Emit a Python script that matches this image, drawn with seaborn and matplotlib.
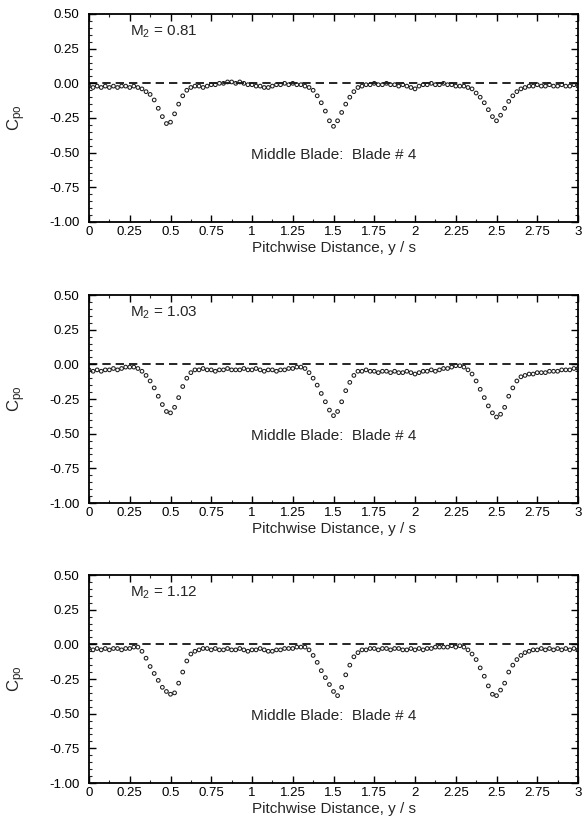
import numpy as np
import pandas as pd
import matplotlib
matplotlib.use("Agg")
import matplotlib.pyplot as plt
import seaborn as sns
from matplotlib.ticker import MultipleLocator, FixedLocator

# ---------------- data ----------------
pitch = np.round(np.arange(121) * 0.025, 3)  # y/s sample positions 0 .. 3

mach_labels = ["0.81", "1.03", "1.12"]

cpo_081 = [
    -0.02, -0.03, -0.02, -0.03, -0.02, -0.03, -0.02, -0.03, -0.02, -0.02,
    -0.03, -0.02, -0.03, -0.04, -0.06, -0.08, -0.12, -0.18, -0.24, -0.29,
    -0.28, -0.22, -0.15, -0.09, -0.05, -0.03, -0.02, -0.02, -0.03, -0.02,
    -0.01, -0.01, 0.00, 0.00, 0.01, 0.01, 0.00, 0.01, 0.00, -0.01,
    -0.01, -0.02, -0.02, -0.03, -0.03, -0.02, -0.01, -0.01, 0.00, -0.01,
    0.00, -0.01, -0.01, -0.02, -0.03, -0.05, -0.09, -0.14, -0.20, -0.27,
    -0.31, -0.27, -0.21, -0.15, -0.10, -0.06, -0.03, -0.02, -0.01, -0.01,
    0.00, -0.01, -0.01, 0.00, -0.01, -0.01, -0.02, -0.01, -0.02, -0.03,
    -0.04, -0.02, -0.01, -0.01, 0.00, -0.01, -0.01, 0.00, -0.01, -0.01,
    -0.02, -0.02, -0.02, -0.03, -0.04, -0.07, -0.10, -0.14, -0.19, -0.24,
    -0.27, -0.23, -0.18, -0.13, -0.09, -0.06, -0.04, -0.03, -0.02, -0.02,
    -0.01, -0.02, -0.02, -0.01, -0.02, -0.02, -0.01, -0.02, -0.02, -0.01,
    -0.02,
]

cpo_103 = [
    -0.04, -0.05, -0.04, -0.05, -0.04, -0.04, -0.03, -0.04, -0.03, -0.02,
    -0.02, -0.02, -0.03, -0.05, -0.08, -0.12, -0.17, -0.23, -0.29, -0.34,
    -0.35, -0.31, -0.24, -0.16, -0.10, -0.06, -0.04, -0.04, -0.03, -0.04,
    -0.04, -0.05, -0.04, -0.04, -0.03, -0.04, -0.04, -0.04, -0.03, -0.04,
    -0.04, -0.03, -0.04, -0.05, -0.04, -0.04, -0.05, -0.04, -0.04, -0.03,
    -0.03, -0.02, -0.02, -0.03, -0.06, -0.10, -0.15, -0.21, -0.27, -0.33,
    -0.37, -0.34, -0.27, -0.19, -0.13, -0.08, -0.05, -0.05, -0.04, -0.05,
    -0.05, -0.06, -0.05, -0.05, -0.06, -0.05, -0.06, -0.06, -0.05, -0.06,
    -0.07, -0.06, -0.05, -0.05, -0.04, -0.05, -0.04, -0.03, -0.03, -0.02,
    -0.01, -0.01, -0.02, -0.04, -0.07, -0.12, -0.18, -0.24, -0.30, -0.35,
    -0.38, -0.36, -0.31, -0.23, -0.17, -0.12, -0.09, -0.08, -0.07, -0.07,
    -0.06, -0.06, -0.06, -0.05, -0.05, -0.05, -0.04, -0.04, -0.04, -0.03,
    -0.03,
]

cpo_112 = [
    -0.03, -0.04, -0.03, -0.04, -0.03, -0.04, -0.03, -0.03, -0.04, -0.03,
    -0.03, -0.02, -0.02, -0.05, -0.10, -0.16, -0.21, -0.26, -0.31, -0.34,
    -0.36, -0.35, -0.28, -0.20, -0.12, -0.07, -0.05, -0.04, -0.03, -0.03,
    -0.04, -0.03, -0.04, -0.04, -0.03, -0.04, -0.04, -0.03, -0.04, -0.05,
    -0.04, -0.04, -0.03, -0.04, -0.05, -0.05, -0.04, -0.04, -0.03, -0.03,
    -0.03, -0.02, -0.02, -0.02, -0.04, -0.08, -0.13, -0.19, -0.24, -0.29,
    -0.34, -0.37, -0.31, -0.22, -0.15, -0.09, -0.06, -0.04, -0.04, -0.03,
    -0.03, -0.04, -0.03, -0.03, -0.04, -0.03, -0.03, -0.04, -0.04, -0.03,
    -0.04, -0.03, -0.04, -0.03, -0.03, -0.02, -0.02, -0.02, -0.02, -0.01,
    -0.02, -0.01, -0.02, -0.04, -0.07, -0.11, -0.17, -0.23, -0.30, -0.36,
    -0.37, -0.33, -0.28, -0.20, -0.15, -0.11, -0.08, -0.06, -0.05, -0.04,
    -0.04, -0.03, -0.04, -0.03, -0.04, -0.03, -0.04, -0.03, -0.04, -0.03,
    -0.04,
]

series = [cpo_081, cpo_103, cpo_112]

x_ticks = [0, 0.25, 0.5, 0.75, 1, 1.25, 1.5, 1.75, 2, 2.25, 2.5, 2.75, 3]
x_ticklabels = ["0", "0.25", "0.5", "0.75", "1", "1.25", "1.5", "1.75",
                "2", "2.25", "2.5", "2.75", "3"]
y_ticks = [0.5, 0.25, 0.0, -0.25, -0.5, -0.75, -1.0]
y_ticklabels = ["0.50", "0.25", "0.00", "-0.25", "-0.50", "-0.75", "-1.00"]

blade_note = "Middle Blade:  Blade # 4"
x_label = "Pitchwise Distance, y / s"

# ---------------- style ----------------
sns.set_theme(style="ticks")
plt.rcParams["font.family"] = ["Liberation Sans", "DejaVu Sans"]
plt.rcParams["axes.linewidth"] = 1.3
plt.rcParams["mathtext.fontset"] = "custom"
plt.rcParams["mathtext.rm"] = "Liberation Sans"
plt.rcParams["mathtext.it"] = "Liberation Sans"

W, H = 582, 824
fig = plt.figure(figsize=(W / 100, H / 100), dpi=100, facecolor="white")

left_px, right_px = 89, 578
panel_tops = [14, 295, 575]
panel_h = 208

for i, (vals, mlab) in enumerate(zip(series, mach_labels)):
    top = panel_tops[i]
    ax = fig.add_axes([left_px / W, 1 - (top + panel_h) / H,
                       (right_px - left_px) / W, panel_h / H])
    df = pd.DataFrame({"y/s": pitch, "Cpo": vals})
    ax.axhline(0, color="black", lw=1.2, ls=(0, (5, 3)), zorder=1)
    sns.scatterplot(data=df, x="y/s", y="Cpo", ax=ax, marker="o",
                    s=7, facecolor="none", edgecolor="#1a1a1a",
                    linewidth=0.75, legend=False, zorder=2)
    ax.set_xlim(0, 3)
    ax.set_ylim(-1.0, 0.5)
    ax.xaxis.set_major_locator(FixedLocator(x_ticks))
    ax.set_xticklabels(x_ticklabels)
    ax.yaxis.set_major_locator(FixedLocator(y_ticks))
    ax.set_yticklabels(y_ticklabels)
    ax.xaxis.set_minor_locator(MultipleLocator(0.125))
    ax.yaxis.set_minor_locator(MultipleLocator(0.05))
    ax.tick_params(which="major", direction="in", length=5, width=1.0,
                   top=True, right=True, labelsize=9.5, colors="black")
    ax.tick_params(axis="y", which="major", pad=7)
    ax.tick_params(axis="x", which="major", pad=3)
    ax.tick_params(which="minor", direction="in", length=2.5, width=0.8,
                   top=True, right=True)
    for sp in ax.spines.values():
        sp.set_visible(True)
        sp.set_color("black")
    ax.set_xlabel(x_label, fontsize=11, labelpad=2)
    ax.set_ylabel("C$_{po}$", fontsize=12)
    ax.yaxis.set_label_coords(-0.125, 0.5)
    ax.text(0.25, 0.37, "M$_2$ = " + mlab, fontsize=11, ha="left",
            va="center")
    ax.text(1.5, -0.52, blade_note, fontsize=11, ha="center", va="center")

fig.savefig("out.png", dpi=100, facecolor="white")
